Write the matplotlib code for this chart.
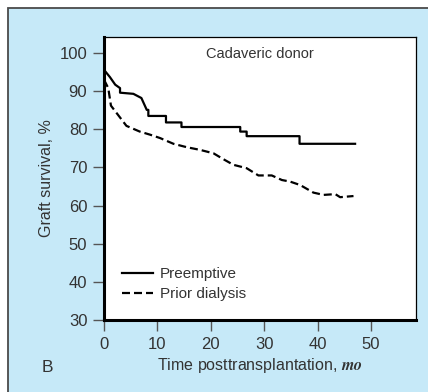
import matplotlib.pyplot as plt
from matplotlib.patches import Rectangle

# Preemptive (Kaplan-Meier, drawn as vertices incl. steps)
pre_t = [0, 1.1, 2.1, 3.0, 3.0, 5.5, 7.0, 8.0, 8.3, 8.3, 11.6, 11.6, 14.5, 14.5,
         25.5, 25.5, 26.7, 26.7, 36.6, 36.6, 47.0]
pre_s = [95.6, 93.7, 91.7, 90.8, 89.6, 89.3, 88.2, 85.1, 85.1, 83.5, 83.5, 81.8, 81.8, 80.6,
         80.6, 79.4, 79.4, 78.2, 78.2, 76.2, 76.2]

# Prior dialysis
dia_t = [0, 0.8, 1.3, 4.2, 6.7, 8.6, 10.5, 13.0, 15.5, 18.0, 20.5, 22.3, 24.2, 26.7,
         28.9, 31.4, 33.3, 34.8, 36.7, 39.2, 41.1, 43.3, 44.2, 46.7]
dia_s = [93.0, 90.8, 86.2, 80.9, 79.4, 78.6, 77.7, 76.2, 75.3, 74.6, 73.7, 72.2, 70.7, 69.8,
         67.9, 67.9, 66.7, 66.3, 65.4, 63.4, 62.8, 63.0, 62.2, 62.5]

x_ticks = [0, 10, 20, 30, 40, 50]
y_ticks = [30, 40, 50, 60, 70, 80, 90, 100]

TXT = "#333333"
BG = "#c6e9f8"

plt.rcParams["font.family"] = ["Liberation Sans", "DejaVu Sans"]
plt.rcParams["mathtext.fontset"] = "stix"

fig = plt.figure(figsize=(4.28, 3.92), dpi=100)
fig.patches.append(Rectangle((8 / 428, -0.01), 1.0, 384 / 392 + 0.01, transform=fig.transFigure,
                             facecolor=BG, edgecolor="#4a4a4a", linewidth=1.3, zorder=-5))

ax = fig.add_axes([104 / 428, 72 / 392, 312 / 428, 283 / 392])
ax.set_zorder(3)
ax.set_facecolor("white")

ax.plot(pre_t, pre_s, color="black", lw=1.6, label="Preemptive")
ax.plot(dia_t, dia_s, color="black", lw=1.6, linestyle=(0, (3.6, 1.8)), label="Prior dialysis")

ax.set_xlim(0, 58.4)
ax.set_ylim(30, 104.2)
ax.set_xticks(x_ticks)
ax.set_yticks(y_ticks)
ax.tick_params(direction="out", length=8, width=1, color="#555555", labelcolor=TXT,
               labelsize=12, pad=4)

for side in ["left", "bottom"]:
    ax.spines[side].set_linewidth(2.2)
for side in ["top", "right"]:
    ax.spines[side].set_linewidth(0.9)

ax.text(0.5, 0.94, "Cadaveric donor", transform=ax.transAxes, ha="center", va="center",
        fontsize=10.5, color=TXT)

ax.set_ylabel("Graft survival, %", fontsize=11.5, color=TXT, labelpad=4)
ax.set_xlabel("Time posttransplantation, $\\mathbfit{mo}$", fontsize=11.5, color=TXT, labelpad=3)

leg = ax.legend(loc="center left", bbox_to_anchor=(0.058, 0.127), frameon=False, fontsize=11,
                handlelength=2.0, handletextpad=0.45, labelspacing=0.4, borderaxespad=0,
                borderpad=0)
for t in leg.get_texts():
    t.set_color(TXT)

fig.text(47 / 428, 1 - 368 / 392, "B", fontsize=12.5, color=TXT, ha="center", va="center")

fig.savefig("out.png", dpi=100)
